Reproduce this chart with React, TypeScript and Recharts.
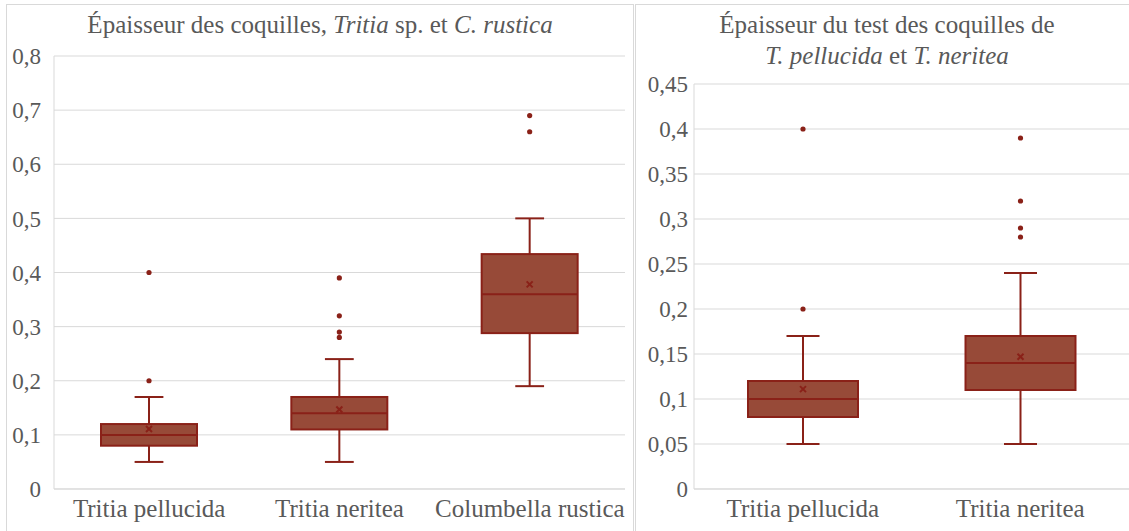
import React from "react";
import { ComposedChart, Bar, XAxis, YAxis, CartesianGrid } from "recharts";

// Left panel: Tritia sp. and C. rustica
const leftCategories = ["Tritia pellucida", "Tritia neritea", "Columbella rustica"];
const leftMin = [0.05, 0.05, 0.19];
const leftQ1 = [0.08, 0.11, 0.288];
const leftMedian = [0.1, 0.14, 0.36];
const leftQ3 = [0.12, 0.17, 0.434];
const leftMax = [0.17, 0.24, 0.5];
const leftMean = [0.111, 0.147, 0.378];
const leftOutliers = [[0.2, 0.4], [0.28, 0.29, 0.32, 0.39], [0.66, 0.69]];
const leftTicks = [0, 0.1, 0.2, 0.3, 0.4, 0.5, 0.6, 0.7, 0.8];

// Right panel: T. pellucida and T. neritea
const rightCategories = ["Tritia pellucida", "Tritia neritea"];
const rightMin = [0.05, 0.05];
const rightQ1 = [0.08, 0.11];
const rightMedian = [0.1, 0.14];
const rightQ3 = [0.12, 0.17];
const rightMax = [0.17, 0.24];
const rightMean = [0.111, 0.147];
const rightOutliers = [[0.2, 0.4], [0.28, 0.29, 0.32, 0.39]];
const rightTicks = [0, 0.05, 0.1, 0.15, 0.2, 0.25, 0.3, 0.35, 0.4, 0.45];

const FONT = '"Liberation Serif", "DejaVu Serif", serif';
const TEXT = "#595959";
const GRID = "#d9d9d9";
const FILL = "#974A38";
const EDGE = "#8A2118";

const buildRows = (
  names: string[],
  min: number[],
  q1: number[],
  median: number[],
  q3: number[],
  max: number[],
  mean: number[],
  outliers: number[][]
) =>
  names.map((name, i) => ({
    name,
    min: min[i],
    q1: q1[i],
    median: median[i],
    q3: q3[i],
    max: max[i],
    mean: mean[i],
    outliers: outliers[i],
  }));

const leftData = buildRows(leftCategories, leftMin, leftQ1, leftMedian, leftQ3, leftMax, leftMean, leftOutliers);
const rightData = buildRows(rightCategories, rightMin, rightQ1, rightMedian, rightQ3, rightMax, rightMean, rightOutliers);

const fmt = (v: number) => String(v).replace(".", ",");

// the bar spans min..max, everything else is placed on the same scale
function BoxShape(props: any) {
  const { x, y, width, height, payload } = props;
  if (!payload) return null;
  const top = Math.min(y, y + height);
  const bottom = Math.max(y, y + height);
  const perUnit = (bottom - top) / (payload.max - payload.min);
  const py = (v: number) => bottom - (v - payload.min) * perUnit;
  const cx = x + width / 2;
  const cap = width * 0.15;
  const my = py(payload.mean);
  const m = 3;
  return (
    <g>
      <line x1={cx} x2={cx} y1={py(payload.max)} y2={py(payload.q3)} stroke={EDGE} strokeWidth={2} />
      <line x1={cx} x2={cx} y1={py(payload.q1)} y2={py(payload.min)} stroke={EDGE} strokeWidth={2} />
      <line x1={cx - cap} x2={cx + cap} y1={py(payload.max)} y2={py(payload.max)} stroke={EDGE} strokeWidth={2} />
      <line x1={cx - cap} x2={cx + cap} y1={py(payload.min)} y2={py(payload.min)} stroke={EDGE} strokeWidth={2} />
      <rect
        x={x}
        y={py(payload.q3)}
        width={width}
        height={py(payload.q1) - py(payload.q3)}
        fill={FILL}
        stroke={EDGE}
        strokeWidth={2}
      />
      <line x1={x} x2={x + width} y1={py(payload.median)} y2={py(payload.median)} stroke={EDGE} strokeWidth={2} />
      <line x1={cx - m} x2={cx + m} y1={my - m} y2={my + m} stroke={EDGE} strokeWidth={2} />
      <line x1={cx - m} x2={cx + m} y1={my + m} y2={my - m} stroke={EDGE} strokeWidth={2} />
      {payload.outliers.map((o: number, i: number) => (
        <circle key={i} cx={cx} cy={py(o)} r={2.6} fill={EDGE} />
      ))}
    </g>
  );
}

const YTick = (p: any) => (
  <text x={p.x} y={p.y} dy="0.355em" textAnchor="end" fill={TEXT} fontSize={23} fontFamily={FONT}>
    {fmt(p.payload.value)}
  </text>
);

const XTick = (p: any) => (
  <text x={p.x} y={p.y} dy="0.71em" textAnchor="middle" fill={TEXT} fontSize={25} fontFamily={FONT}>
    {p.payload.value}
  </text>
);

export default function App() {
  return (
    <div
      style={{
        position: "absolute",
        left: 0,
        top: 0,
        width: 1129,
        height: 531,
        background: "#fff",
        overflow: "hidden",
        fontFamily: FONT,
        color: TEXT,
      }}
    >
      <div style={{ position: "absolute", left: 6, top: 4, width: 626, height: 560, border: `1px solid ${GRID}` }} />
      <div style={{ position: "absolute", left: 635, top: 4, width: 520, height: 560, border: `1px solid ${GRID}` }} />

      <div style={{ position: "absolute", left: 0, top: 0 }}>
        <ComposedChart width={633} height={531} data={leftData} margin={{ top: 56, right: 8, bottom: 0, left: 0 }}>
          <CartesianGrid vertical={false} stroke={GRID} />
          <XAxis
            dataKey="name"
            height={42}
            tickLine={false}
            axisLine={{ stroke: GRID }}
            tickSize={6}
            tickMargin={4}
            tick={XTick}
            interval={0}
          />
          <YAxis
            type="number"
            domain={[0, 0.8]}
            ticks={leftTicks}
            width={54}
            tickLine={false}
            axisLine={{ stroke: GRID }}
            tickSize={0}
            tickMargin={13}
            tick={YTick}
          />
          <Bar dataKey={(d: any) => [d.min, d.max]} barSize={96} shape={BoxShape} isAnimationActive={false} />
        </ComposedChart>
      </div>

      <div style={{ position: "absolute", left: 635, top: 0 }}>
        <ComposedChart width={494} height={531} data={rightData} margin={{ top: 84, right: 0, bottom: 0, left: 0 }}>
          <CartesianGrid vertical={false} stroke={GRID} />
          <XAxis
            dataKey="name"
            height={42}
            tickLine={false}
            axisLine={{ stroke: GRID }}
            tickSize={6}
            tickMargin={4}
            tick={XTick}
            interval={0}
          />
          <YAxis
            type="number"
            domain={[0, 0.45]}
            ticks={rightTicks}
            width={59}
            tickLine={false}
            axisLine={{ stroke: GRID }}
            tickSize={0}
            tickMargin={6}
            tick={YTick}
          />
          <Bar dataKey={(d: any) => [d.min, d.max]} barSize={110} shape={BoxShape} isAnimationActive={false} />
        </ComposedChart>
      </div>

      <div
        style={{
          position: "absolute",
          left: 70,
          top: 9,
          width: 500,
          textAlign: "center",
          fontSize: 25,
          lineHeight: "31px",
          whiteSpace: "nowrap",
        }}
      >
        Épaisseur des coquilles, <i>Tritia</i> sp. et <i>C. rustica</i>
      </div>
      <div
        style={{
          position: "absolute",
          left: 687,
          top: 9,
          width: 400,
          textAlign: "center",
          fontSize: 25,
          lineHeight: "31px",
          whiteSpace: "nowrap",
        }}
      >
        Épaisseur du test des coquilles de
        <br />
        <i>T. pellucida</i> et <i>T. neritea</i>
      </div>
    </div>
  );
}
